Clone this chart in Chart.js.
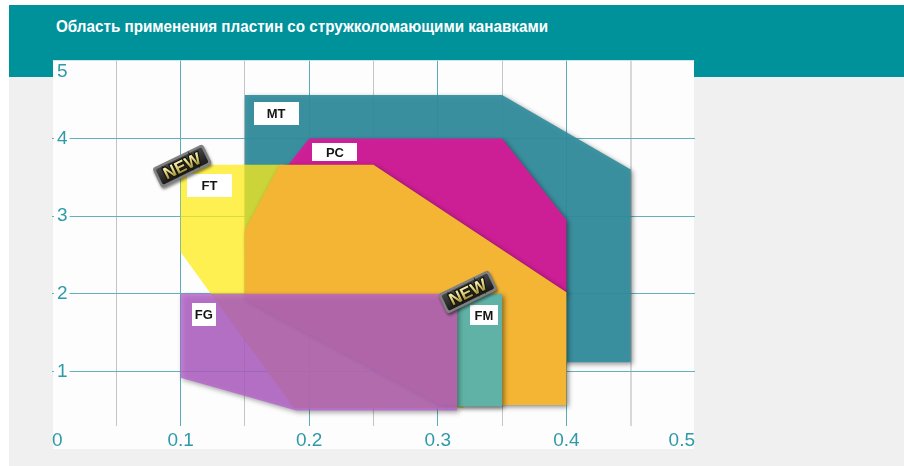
<!DOCTYPE html>
<html><head><meta charset="utf-8">
<script src="https://cdn.jsdelivr.net/npm/chart.js@4.4.1/dist/chart.umd.min.js"></script>
<style>
html,body{margin:0;padding:0;background:#fff;}
#page{position:relative;width:904px;height:466px;overflow:hidden;background:#fff;}
#banner{position:absolute;left:9px;top:5px;width:895px;height:72px;background:#00929b;}
#panel{position:absolute;left:9px;top:77px;width:895px;height:389px;background:#f0f0f0;}
#plotbg{position:absolute;left:53px;top:60px;width:641px;height:389px;background:#fdfdfd;}
#title{position:absolute;left:56px;top:19px;color:#fff;font-weight:bold;font-size:16px;line-height:16px;font-family:"Liberation Sans Narrow","Liberation Sans",Arial,sans-serif;white-space:nowrap;transform-origin:0 0;}
#wrap{position:absolute;left:0;top:0;width:904px;height:466px;}
</style></head>
<body><div id="page">
<div id="banner"></div><div id="panel"></div><div id="plotbg"></div>
<div id="title">Область применения пластин со стружколомающими канавками</div>
<div id="wrap"><canvas id="c" width="904" height="466"></canvas></div>
</div>
<script>
// ---- axis ticks ----
const xTicks = [0, 0.05, 0.1, 0.15, 0.2, 0.25, 0.3, 0.35, 0.4, 0.45, 0.5];
const yTicks = [1, 2, 3, 4, 5];

// ---- regions (feed x, depth y), polygon vertices ----
const mtX = [0.15, 0.15, 0.35, 0.45, 0.45, 0.3, 0.3];
const mtY = [2.6, 4.56, 4.56, 3.6, 1.12, 1.12, 2.6];
const pcX = [0.176, 0.2, 0.35, 0.4, 0.4, 0.3];
const pcY = [3.5, 4.0, 4.0, 2.95, 2.0, 2.0];
const ftX = [0.1, 0.1, 0.18, 0.3, 0.32, 0.188];
const ftY = [2.54, 3.66, 3.66, 2.0, 0.53, 0.53];
const zoneX = [0.15, 0.15, 0.177, 0.25, 0.4, 0.4, 0.302];
const zoneY = [1.93, 2.82, 3.66, 3.66, 2.02, 0.57, 0.57];
const fmX = [0.315, 0.35, 0.35, 0.315];
const fmY = [2.0, 2.0, 0.55, 0.55];
const fgX = [0.1, 0.315, 0.315, 0.19, 0.1];
const fgY = [2.0, 2.0, 0.5, 0.5, 0.92];

// ---- region labels (anchor in data units) ----
const labelNames = ['MT', 'PC', 'FT', 'FG', 'FM'];
const labelX = [0.1742, 0.220, 0.1225, 0.118, 0.3358];
const labelY = [4.327, 3.825, 3.40, 1.732, 1.728];
// ---- "NEW" badges (anchor in data units) ----
const newX = [0.1012, 0.3234];
const newY = [3.645, 2.024];

const labelBox = {MT:[45,23], PC:[45,18], FT:[45,23], FG:[24,23], FM:[28,20]};

function pts(xs, ys){ return xs.map((x,i)=>({x:x, y:ys[i]})); }

const regions = [
  {label:'FG', xs:fgX, ys:fgY, color:'rgba(182,97,204,0.8)', shadow:true},
  {label:'FM', xs:fmX, ys:fmY, color:'rgb(96,178,166)', shadow:true},
  {label:'FT/PC', xs:zoneX, ys:zoneY, color:'rgb(244,181,52)', shadow:true},
  {label:'FT', xs:ftX, ys:ftY, color:'rgba(252,235,22,0.75)', shadow:false},
  {label:'PC', xs:pcX, ys:pcY, color:'rgba(218,27,154,0.93)', shadow:true},
  {label:'MT', xs:mtX, ys:mtY, color:'rgba(50,142,158,0.92)', shadow:true}
];

function applyShadow(ctx, on){
  if (on){ ctx.shadowColor='rgba(0,0,0,0.45)'; ctx.shadowBlur=5; ctx.shadowOffsetX=2; ctx.shadowOffsetY=2; }
  else { ctx.shadowColor='rgba(0,0,0,0)'; ctx.shadowBlur=0; ctx.shadowOffsetX=0; ctx.shadowOffsetY=0; }
}
const shadowPlugin = {
  id:'regionShadows',
  beforeDatasetsDraw(chart){
    const ctx = chart.ctx; ctx.save();
    const metas = chart.getSortedVisibleDatasetMetas();
    applyShadow(ctx, regions[metas[metas.length-1].index].shadow);
  },
  afterDatasetDraw(chart, args){
    const metas = chart.getSortedVisibleDatasetMetas();
    const pos = metas.findIndex(m=>m.index===args.index);
    const next = metas[pos-1];
    applyShadow(chart.ctx, next ? regions[next.index].shadow : false);
  },
  afterDatasetsDraw(chart){ chart.ctx.restore(); }
};

function rr(ctx,x,y,w,h,r){
  ctx.beginPath(); ctx.moveTo(x+r,y); ctx.lineTo(x+w-r,y); ctx.quadraticCurveTo(x+w,y,x+w,y+r);
  ctx.lineTo(x+w,y+h-r); ctx.quadraticCurveTo(x+w,y+h,x+w-r,y+h); ctx.lineTo(x+r,y+h);
  ctx.quadraticCurveTo(x,y+h,x,y+h-r); ctx.lineTo(x,y+r); ctx.quadraticCurveTo(x,y,x+r,y); ctx.closePath();
}
function drawBadge(ctx, px, py, ang){
  ctx.save();
  ctx.translate(px,py); ctx.rotate(ang);
  ctx.shadowColor='rgba(0,0,0,0.5)'; ctx.shadowBlur=3; ctx.shadowOffsetX=1; ctx.shadowOffsetY=2;
  rr(ctx,-28,-11,56,22,3); ctx.fillStyle='#808080'; ctx.fill();
  ctx.shadowColor='rgba(0,0,0,0)';
  rr(ctx,-25.5,-8.5,51,17,2);
  const g=ctx.createLinearGradient(0,-8,0,8); g.addColorStop(0,'#444'); g.addColorStop(1,'#1c1c1c');
  ctx.fillStyle=g; ctx.fill();
  ctx.font='bold 17px "Liberation Sans Narrow","Liberation Sans",Arial,sans-serif';
  ctx.textAlign='center'; ctx.textBaseline='middle';
  ctx.lineWidth=2.5; ctx.strokeStyle='#16160c'; ctx.strokeText('NEW',0,1);
  const tg=ctx.createLinearGradient(0,-7,0,7);
  tg.addColorStop(0,'#fcf7c8'); tg.addColorStop(0.5,'#dccb72'); tg.addColorStop(1,'#8d7d2c');
  ctx.fillStyle=tg; ctx.fillText('NEW',0,1);
  ctx.restore();
}
const labelPlugin = {
  id:'regionLabels',
  afterDatasetsDraw(chart){
    const ctx = chart.ctx, xs = chart.scales.x, ys = chart.scales.y;
    ctx.save();
    labelNames.forEach((t,i)=>{
      const px = xs.getPixelForValue(labelX[i]), py = ys.getPixelForValue(labelY[i]);
      const [w,h] = labelBox[t];
      ctx.fillStyle='#ffffff'; ctx.fillRect(Math.round(px-w/2), Math.round(py-h/2), w, h);
      ctx.fillStyle='#151515'; ctx.font='bold 13px "Liberation Sans",Arial,sans-serif';
      ctx.textAlign='center'; ctx.textBaseline='middle';
      ctx.fillText(t, px, py+1);
    });
    newX.forEach((v,i)=>{
      drawBadge(ctx, xs.getPixelForValue(v), ys.getPixelForValue(newY[i]), -26*Math.PI/180);
    });
    ctx.restore();
  }
};

const tickColor = '#2f9aaa';
const tickFont = {family:'"Liberation Sans", Arial, sans-serif', size:19};

new Chart(document.getElementById('c'), {
  type:'line',
  data:{ datasets: regions.map((r,i)=>({
    label:r.label, data:pts(r.xs, r.ys), backgroundColor:r.color, borderColor:r.color,
    borderWidth:0, pointRadius:0, pointHoverRadius:0, fill:'shape', tension:0, order:i
  }))},
  options:{
    responsive:false, animation:false, devicePixelRatio:1, events:[],
    layout:{ padding:{left:52, right:209, top:60.7, bottom:17} },
    plugins:{ legend:{display:false}, tooltip:{enabled:false}, title:{display:false} },
    scales:{
      x:{
        type:'linear', position:'bottom', min:0, max:0.5,
        afterBuildTicks:(s)=>{ s.ticks = xTicks.map(v=>({value:v})); },
        afterFit:(s)=>{ s.height = 23; },
        border:{display:false},
        grid:{
          drawTicks:false,
          color:(c)=>{ const v=Math.round(c.tick.value*100); if(v===0||v===50) return 'rgba(0,0,0,0)'; return v%10===0 ? '#5aaeb9' : (v===45 ? '#d8d8d8' : '#c4c4c4'); },
          lineWidth:(c)=>{ const v=Math.round(c.tick.value*100); return v===45 ? 2 : 1; }
        },
        ticks:{
          align:'inner', padding:3, autoSkip:false, maxRotation:0, minRotation:0,
          color:tickColor, font:tickFont,
          callback:(v)=>{ const k=Math.round(v*100); return k%10===0 ? String(k/100) : ''; }
        }
      },
      y:{
        type:'linear', position:'left', min:0.3, max:5,
        afterBuildTicks:(s)=>{ s.ticks = yTicks.map(v=>({value:v})); },
        afterFit:(s)=>{ s.width = 0; },
        border:{display:false},
        grid:{ drawTicks:false, color:(c)=> c.tick.value===5 ? 'rgba(95,174,185,0.3)' : '#62b2bd' },
        ticks:{
          mirror:true, padding:5, color:tickColor, font:tickFont,
          showLabelBackdrop:true,
          backdropColor:(c)=> (c.tick && c.tick.value===5) ? 'rgba(0,0,0,0)' : '#fdfdfd',
          backdropPadding:{left:3, right:2, top:1, bottom:1},
          callback:(v)=> v===5 ? ['', '5'] : String(v)
        }
      }
    }
  },
  plugins:[shadowPlugin, labelPlugin]
});

function fitTitle(){
  const t = document.getElementById('title');
  t.style.transform = 'none';
  const w = t.getBoundingClientRect().width;
  if (w > 0) t.style.transform = 'scaleX(' + (492 / w) + ')';
}
fitTitle();
if (document.fonts && document.fonts.ready) document.fonts.ready.then(fitTitle);
</script>
</body></html>
